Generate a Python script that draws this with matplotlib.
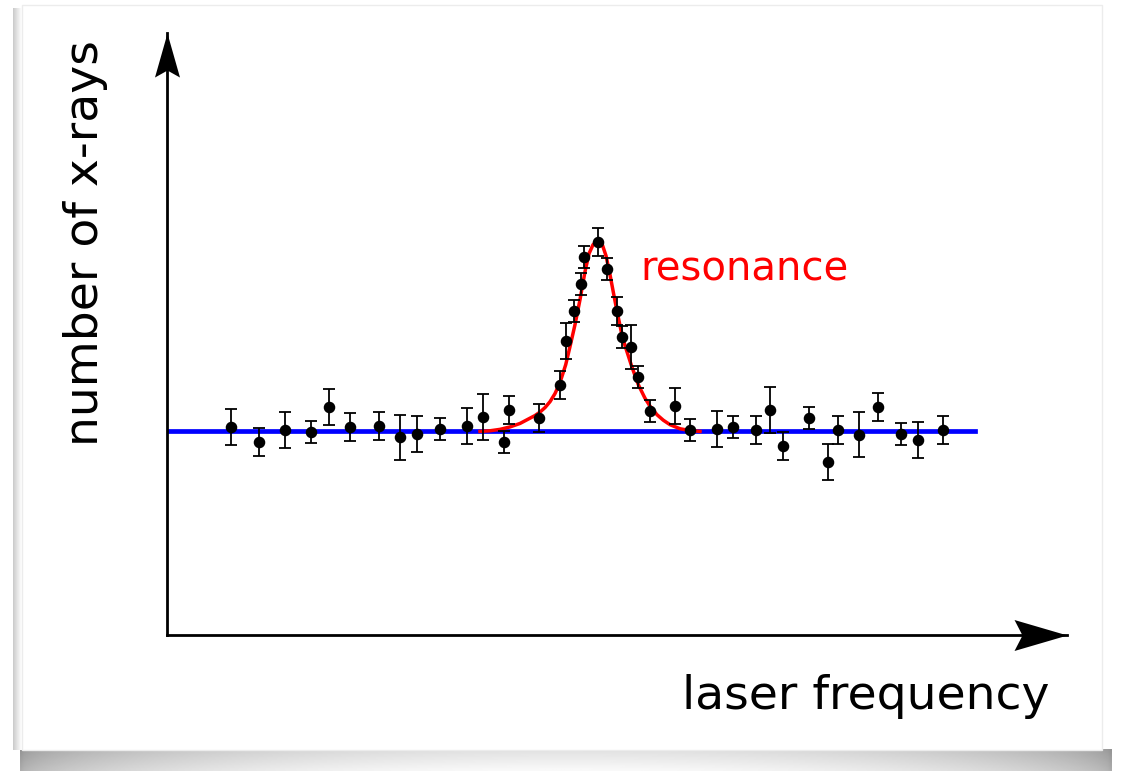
import numpy as np
import matplotlib.pyplot as plt
from matplotlib.path import Path
from matplotlib.patches import Rectangle

# measured x-ray counts per laser frequency step
freq = [6.37, 9.23, 11.8, 14.37, 16.17, 18.33, 21.23, 23.3, 25.03, 27.33,
        29.97, 31.63, 33.67, 34.23, 37.2, 39.27, 39.87, 40.73, 41.37, 41.73,
        43.13, 44.03, 45.03, 45.47, 46.43, 47.1, 48.3, 50.77, 52.3, 55.03,
        56.6, 58.93, 60.3, 61.57, 64.17, 66.13, 67.13, 69.17, 71.07, 73.43,
        75.13, 77.6]
counts = [102.2, 94.6, 100.8, 99.5, 112.0, 102.0, 102.5, 97.0, 98.7, 101.2,
          102.8, 107.1, 94.6, 110.3, 106.7, 123.0, 144.6, 159.0, 172.5, 185.8,
          193.3, 180.0, 159.2, 146.4, 141.3, 126.8, 109.8, 112.3, 100.5, 101.3,
          102.3, 100.7, 110.5, 92.8, 106.7, 84.9, 100.5, 98.4, 112.2, 98.7,
          95.8, 100.8]
errors = [8.9, 6.9, 8.9, 5.4, 8.9, 6.9, 6.9, 11.2, 8.9, 5.4,
          8.9, 11.2, 5.4, 6.9, 6.9, 6.9, 8.9, 5.4, 5.4, 5.4,
          6.9, 5.4, 6.9, 5.4, 10.8, 5.4, 5.4, 8.9, 5.4, 8.9,
          5.4, 6.9, 11.1, 6.9, 5.4, 8.9, 6.9, 11.1, 6.9, 5.4,
          8.9, 6.9]

# flat background level
bg_freq = [0, 80.8]
bg_counts = [100, 100]

# resonance fit line
fit_freq = [31.3, 32.3, 33.3, 34.3, 35.3, 36.3, 36.8, 37.3, 37.8, 38.3,
            38.8, 39.3, 39.87, 40.3, 40.8, 41.3, 41.8, 42.2, 42.6, 43.05,
            43.5, 43.9, 44.3, 44.7, 45.03, 45.45, 45.8, 46.47, 47.13, 47.8,
            48.3, 49.0, 49.63, 50.3, 51.3, 52.3, 53.3]
fit_counts = [100.0, 100.3, 101.0, 102.2, 103.9, 106.5, 107.8, 109.5, 111.7, 114.6,
              118.6, 124.0, 132.8, 141.7, 152.5, 164.8, 178.6, 187.4, 191.8, 194.0,
              192.3, 186.4, 177.1, 166.7, 158.4, 148.5, 142.2, 132.0, 123.0, 116.3,
              112.4, 108.2, 105.5, 103.3, 101.3, 100.4, 100.0]

W, H = 1121, 771
fig = plt.figure(figsize=(W / 100, H / 100), dpi=100)
fig.patch.set_facecolor('white')

# card with a drop shadow underneath
bg = fig.add_axes([0, 0, 1, 1], zorder=0)
bg.set_xlim(0, W)
bg.set_ylim(H, 0)
bg.axis('off')
u = np.linspace(0, 1, 400)
t = np.linspace(0, 1, 30)[:, None]
shade = 0.58 + 0.3 * np.sqrt(np.sin(np.pi * u))[None, :] + 0.1 * t
bg.imshow(shade, cmap='gray', vmin=0, vmax=1, extent=(20, 1112, 771, 749),
          aspect='auto', interpolation='bilinear')
side = np.linspace(0.8, 1.0, 10)[None, :]
bg.imshow(side, cmap='gray', vmin=0, vmax=1, extent=(13, 22, 750, 8),
          aspect='auto', interpolation='bilinear')
bg.add_patch(Rectangle((22, 5), 1080, 745, facecolor='white',
                       edgecolor='#ececec', lw=1))

ax = fig.add_axes([167 / W, (H - 634.7) / H, 899.7 / W, 602 / H], zorder=1)
ax.patch.set_alpha(0)
ax.set_xlim(0, 89.97)
ax.set_ylim(0, 296.1)
for s in ['top', 'right']:
    ax.spines[s].set_visible(False)
for s in ['left', 'bottom']:
    ax.spines[s].set_linewidth(2)
ax.set_xticks([])
ax.set_yticks([])

up_head = Path([(0, 0), (12.5, -44), (0, -37), (-12.5, -44), (0, 0)],
               [Path.MOVETO, Path.LINETO, Path.LINETO, Path.LINETO, Path.CLOSEPOLY])
right_head = Path([(0, 0), (-53, 15.5), (-45, 0), (-53, -15.5), (0, 0)],
                  [Path.MOVETO, Path.LINETO, Path.LINETO, Path.LINETO, Path.CLOSEPOLY])
ax.plot(0, 1, marker=up_head, ms=63.4, color='black', mew=0,
        transform=ax.transAxes, clip_on=False)
ax.plot(1, 0, marker=right_head, ms=76.3, color='black', mew=0,
        transform=ax.transAxes, clip_on=False)

ax.plot(bg_freq, bg_counts, color='#0000ff', lw=3.4, zorder=2)
ax.plot(fit_freq, fit_counts, color='#ff0000', lw=2.5, zorder=3,
        solid_joinstyle='round')
ax.errorbar(freq, counts, yerr=errors, fmt='o', color='black', ms=7.3,
            capsize=4.5, elinewidth=1.3, capthick=1.3, zorder=4)

ax.text(47.3, 174, 'resonance', color='#ff0000', fontsize=29, va='baseline')
fig.text(1050 / W, 1 - 709 / H, 'laser frequency', fontsize=34,
         ha='right', va='baseline')
fig.text(86 / W, 1 - 243 / H, 'number of x-rays', fontsize=34,
         rotation=90, ha='center', va='center')

fig.savefig('out.png', dpi=100)
